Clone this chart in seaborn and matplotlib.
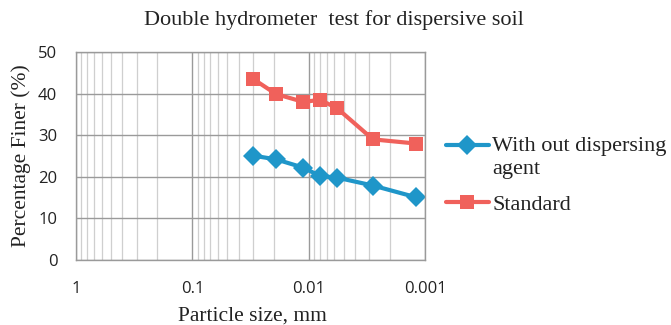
import pandas as pd
import matplotlib
matplotlib.use('Agg')
import matplotlib.pyplot as plt
import seaborn as sns
from matplotlib.ticker import FixedLocator, FuncFormatter, LogLocator, NullFormatter

# Data
particle_size = [0.0303, 0.0191, 0.0111, 0.0080, 0.0057, 0.0028, 0.0012]
no_agent = [25.1, 24.2, 22.2, 20.2, 19.8, 17.9, 15.1]
standard = [43.6, 39.9, 38.0, 38.5, 36.5, 29.0, 28.0]
series_names = ['With out dispersing\nagent', 'Standard']
x_ticks = [1, 0.1, 0.01, 0.001]
y_ticks = [0, 10, 20, 30, 40, 50]

df = pd.DataFrame({
    'size': particle_size * 2,
    'finer': no_agent + standard,
    'series': [series_names[0]] * len(no_agent) + [series_names[1]] * len(standard),
})

sns.set_style('white')
serif = ['Liberation Serif', 'DejaVu Serif']
plt.rcParams['font.family'] = ['Open Sans', 'DejaVu Sans']

fig = plt.figure(figsize=(6.71, 3.25), dpi=100)
ax = fig.add_axes([0.1133, 0.2, 0.52, 0.64])

sns.lineplot(data=df, x='size', y='finer', hue='series', style='series',
             palette=['#1F96C9', '#F0615B'], markers=['D', 's'], dashes=False,
             markersize=10, linewidth=3, markeredgewidth=0, ax=ax)

ax.set_xscale('log')
ax.set_xlim(1, 0.001)
ax.set_ylim(0, 50)
ax.xaxis.set_major_locator(FixedLocator(x_ticks))
ax.xaxis.set_major_formatter(FuncFormatter(lambda v, p: f'{v:g}'))
ax.xaxis.set_minor_locator(LogLocator(base=10, subs=range(2, 10), numticks=20))
ax.xaxis.set_minor_formatter(NullFormatter())
ax.set_yticks(y_ticks)

ax.grid(which='major', axis='both', color='#9a9a9a', linewidth=1.0)
ax.grid(which='minor', axis='x', color='#cfcfcf', linewidth=0.9)
ax.set_axisbelow(True)
for s in ax.spines.values():
    s.set_color('#9a9a9a')
    s.set_linewidth(1.0)
ax.tick_params(which='both', length=0, labelsize=12, colors='#222222')
ax.tick_params(axis='x', pad=15)
ax.tick_params(axis='y', pad=13.5)

ax.set_xlabel('Particle size, mm', fontsize=15.5, family=serif, color='#222222')
ax.xaxis.set_label_coords(0.507, -0.225)
ax.set_ylabel('Percentage Finer (%)', fontsize=15.5, family=serif, color='#222222')
ax.yaxis.set_label_coords(-0.13, 0.5)
fig.text(0.498, 0.938, 'Double hydrometer  test for dispersive soil',
         ha='center', va='center', fontsize=16, family=serif, color='#222222')

handles, labels = ax.get_legend_handles_labels()
leg = ax.legend(handles, labels, loc='center left', bbox_to_anchor=(0.664, 0.458),
                bbox_transform=fig.transFigure, frameon=False,
                prop={'family': serif, 'size': 16}, handlelength=1.95,
                handletextpad=0.15, labelspacing=0.68, borderaxespad=0, borderpad=0)
for t in leg.get_texts():
    t.set_linespacing(1.3)
    t.set_color('#222222')

# put the first handle next to the first line of its two-line label
h0 = leg.legend_handles[0]
h0.set_ydata([y + 9 for y in h0.get_ydata()])

fig.savefig('out.png', dpi=100)
